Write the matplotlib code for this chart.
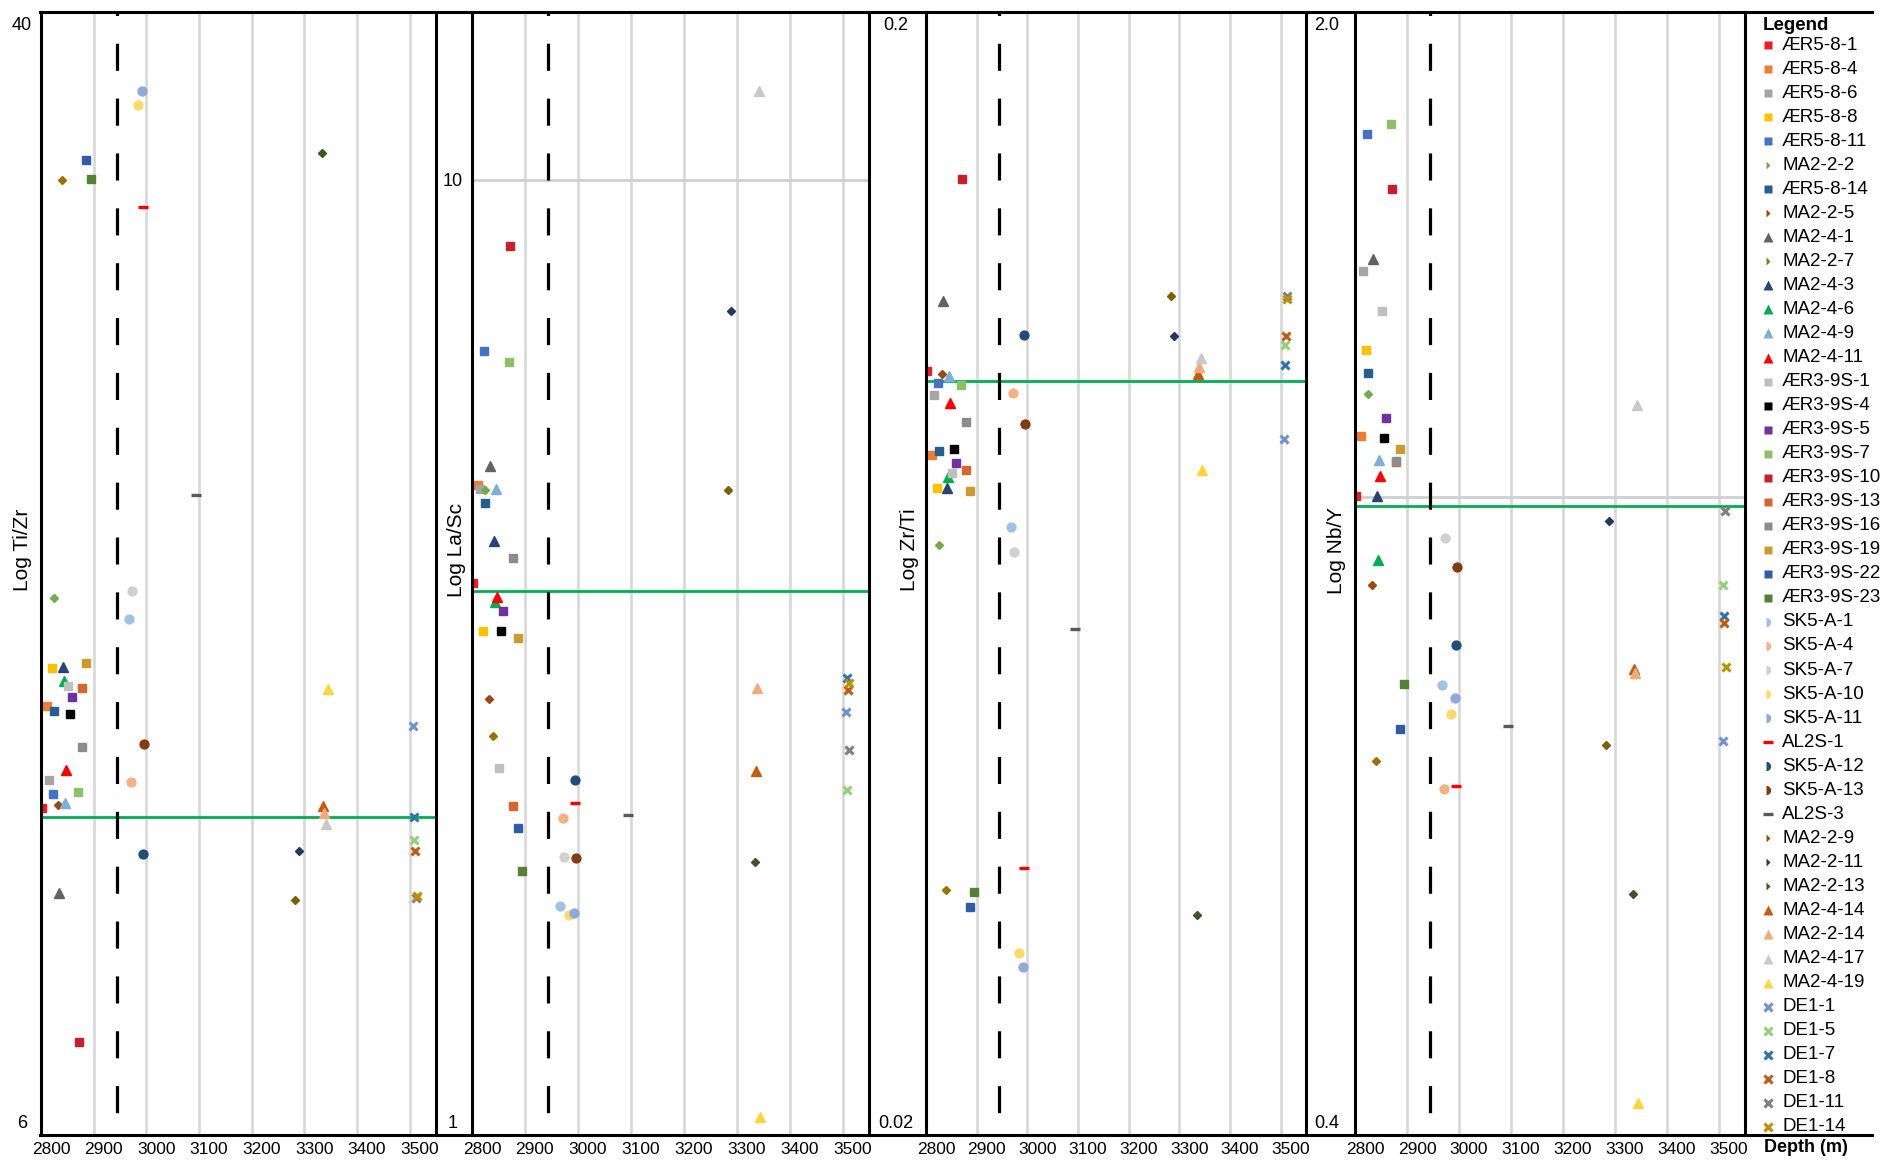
import matplotlib
matplotlib.use("Agg")
import numpy as np
import matplotlib.pyplot as plt
from matplotlib.lines import Line2D
from matplotlib.transforms import ScaledTranslation

plt.rcParams["font.family"] = ["Liberation Sans", "DejaVu Sans"]
plt.rcParams["lines.scale_dashes"] = False

# ---------------------------------------------------------------- data
samples = [
    "ÆR5-8-1", "ÆR5-8-4", "ÆR5-8-6", "ÆR5-8-8", "ÆR5-8-11", "MA2-2-2",
    "ÆR5-8-14", "MA2-2-5", "MA2-4-1", "MA2-2-7", "MA2-4-3", "MA2-4-6",
    "MA2-4-9", "MA2-4-11", "ÆR3-9S-1", "ÆR3-9S-4", "ÆR3-9S-5", "ÆR3-9S-7",
    "ÆR3-9S-10", "ÆR3-9S-13", "ÆR3-9S-16", "ÆR3-9S-19", "ÆR3-9S-22",
    "ÆR3-9S-23", "SK5-A-1", "SK5-A-4", "SK5-A-7", "SK5-A-10", "SK5-A-11",
    "AL2S-1", "SK5-A-12", "SK5-A-13", "AL2S-3", "MA2-2-9", "MA2-2-11",
    "MA2-2-13", "MA2-4-14", "MA2-2-14", "MA2-4-17", "MA2-4-19", "DE1-1",
    "DE1-5", "DE1-7", "DE1-8", "DE1-11", "DE1-14",
]

depth_m = [
    2802, 2811, 2815, 2821, 2823, 2825, 2825, 2832, 2834, 2840, 2842, 2844,
    2846, 2848, 2851, 2855, 2859, 2870, 2872, 2878, 2878, 2886, 2886, 2895,
    2967, 2971, 2973, 2984, 2992, 2994, 2994, 2996, 3095, 3283, 3289, 3334,
    3336, 3338, 3342, 3344, 3507, 3508, 3509, 3510, 3512, 3513,
]

ti_zr = [
    10.32, 12.31, 10.84, 13.15, 10.57, 14.84, 12.21, 10.37, 8.91, 30.55,
    13.17, 12.85, 10.41, 11.02, 12.74, 12.14, 12.51, 10.61, 6.89, 12.70,
    11.47, 13.26, 31.62, 30.60, 14.31, 10.80, 15.02, 34.79, 35.62, 29.16,
    9.53, 11.53, 17.72, 8.80, 9.58, 32.02, 10.36, 10.23, 10.04, 12.68,
    11.89, 9.77, 10.16, 9.58, 8.84, 8.87,
]

la_sc = [
    3.735, 4.746, 4.699, 3.320, 6.585, 4.688, 4.541, 2.812, 4.971, 2.569,
    4.138, 3.565, 4.699, 3.609, 2.376, 3.320, 3.487, 6.410, 8.510, 2.165,
    3.969, 3.264, 2.051, 1.847, 1.696, 2.102, 1.911, 1.659, 1.667, 2.182,
    2.307, 1.906, 2.118, 4.688, 7.258, 1.888, 2.358, 2.888, 12.43, 1.012,
    2.724, 2.251, 2.960, 2.874, 2.483, 2.924,
]

zr_ti = [
    0.0966, 0.0810, 0.0919, 0.0756, 0.0942, 0.0671, 0.0817, 0.0960, 0.1119,
    0.0325, 0.0756, 0.0774, 0.0956, 0.0903, 0.0780, 0.0820, 0.0797, 0.0938,
    0.1445, 0.0785, 0.0868, 0.0751, 0.0314, 0.0324, 0.0697, 0.0923, 0.0661,
    0.0285, 0.0277, 0.0341, 0.1042, 0.0865, 0.0562, 0.1130, 0.1039, 0.0309,
    0.0960, 0.0974, 0.0993, 0.0785, 0.0838, 0.1020, 0.0978, 0.1039, 0.1130,
    0.1123,
]

nb_y = [
    1.001, 1.094, 1.393, 1.240, 1.702, 1.163, 1.199, 0.879, 1.417, 0.679,
    1.001, 0.912, 1.056, 1.031, 1.313, 1.090, 1.122, 1.727, 1.570, 1.053,
    1.054, 1.073, 0.712, 0.760, 0.759, 0.652, 0.941, 0.727, 0.745, 0.655,
    0.805, 0.902, 0.715, 0.695, 0.965, 0.559, 0.777, 0.772, 1.144, 0.411,
    0.699, 0.879, 0.840, 0.831, 0.980, 0.779,
]

depth_ticks = [2800, 2900, 3000, 3100, 3200, 3300, 3400, 3500]
depth_range = (2800, 3550)
boundary_depth = 2944

axis_titles = ["Log Ti/Zr", "Log La/Sc", "Log Zr/Ti", "Log Nb/Y"]
tick_values = [[6, 40], [1, 10], [0.02, 0.2], [0.4, 2.0]]
tick_labels = [["6", "40"], ["1", "10"], ["0.02", "0.2"], ["0.4", "2.0"]]
green_limits = [10.16, 3.66, 0.0946, 0.987]
grey_limits = [None, 10, None, 1.0]

# ---------------------------------------------------------------- styles
sample_colors = {
    "ÆR5-8-1": "#EE1C25", "ÆR5-8-4": "#ED7D31", "ÆR5-8-6": "#A5A5A5",
    "ÆR5-8-8": "#FFC000", "ÆR5-8-11": "#4472C4", "MA2-2-2": "#70AD47",
    "ÆR5-8-14": "#255E91", "MA2-2-5": "#9E480E", "MA2-4-1": "#636363",
    "MA2-2-7": "#997300", "MA2-4-3": "#264478", "MA2-4-6": "#00B050",
    "MA2-4-9": "#7CAFDD", "MA2-4-11": "#FF0000", "ÆR3-9S-1": "#BFBFBF",
    "ÆR3-9S-4": "#000000", "ÆR3-9S-5": "#7030A0", "ÆR3-9S-7": "#8CC168",
    "ÆR3-9S-10": "#C8202A", "ÆR3-9S-13": "#D9652B", "ÆR3-9S-16": "#8C8C8C",
    "ÆR3-9S-19": "#CC9A2E", "ÆR3-9S-22": "#2F5BA8", "ÆR3-9S-23": "#548235",
    "SK5-A-1": "#9DC3E6", "SK5-A-4": "#F4B183", "SK5-A-7": "#D0D0D0",
    "SK5-A-10": "#FFD966", "SK5-A-11": "#8EA9DB", "AL2S-1": "#FF0000",
    "SK5-A-12": "#1F4E79", "SK5-A-13": "#843C0C", "AL2S-3": "#595959",
    "MA2-2-9": "#7F6000", "MA2-2-11": "#203864", "MA2-2-13": "#385723",
    "MA2-4-14": "#C55A11", "MA2-2-14": "#F4A97A", "MA2-4-17": "#C9C9C9",
    "MA2-4-19": "#FFD43B", "DE1-1": "#7291D4", "DE1-5": "#92D07A",
    "DE1-7": "#2E75B6", "DE1-8": "#C55A11", "DE1-11": "#7F7F7F",
    "DE1-14": "#BF9000",
}


def marker_style(name):
    if name.startswith("Æ"):
        return dict(marker="s", ms=6.2)
    if name.startswith("MA2-4") or name == "MA2-2-14":
        return dict(marker="^", ms=7.0)
    if name.startswith("MA2-2"):
        return dict(marker="D", ms=4.2)
    if name.startswith("SK5"):
        return dict(marker="o", ms=6.4)
    if name.startswith("AL2S"):
        return dict(marker="_", ms=7.0, mew=2.4)
    return dict(marker="x", ms=5.6, mew=2.2)


# ---------------------------------------------------------------- layout
W, H = 1885, 1162
fig = plt.figure(figsize=(W / 100, H / 100), dpi=100)
TOP, BOT = 12, 1135
LABEL_LOW, LABEL_TOPS = 1122, [24, 180, 24, 24]
panel_x = [(41, 436), (472, 869), (926, 1306), (1355, 1745)]
tick_pads = [13.7, 13.7, 21.6, 20.2]
title_x = [22, 456, 909, 1337]
series = [ti_zr, la_sc, zr_ti, nb_y]
LW = 2.2

for p in range(4):
    left, right = panel_x[p]
    ax = fig.add_axes([left / W, 1 - BOT / H, (right - left) / W, (BOT - TOP) / H])
    ax.set_yscale("log")
    lo_v, hi_v = tick_values[p]
    k = (np.log10(hi_v) - np.log10(lo_v)) / (LABEL_LOW - LABEL_TOPS[p])
    ax.set_ylim(10 ** (np.log10(lo_v) - k * (BOT - LABEL_LOW)),
                10 ** (np.log10(lo_v) + k * (LABEL_LOW - TOP)))
    ax.set_xlim(*depth_range)

    ax.set_xticks(depth_ticks)
    ax.set_xticklabels([str(t) for t in depth_ticks],
                       family=["Liberation Sans Narrow", "Liberation Sans"],
                       fontsize=12.5)
    ax.tick_params(axis="x", length=0, pad=5)
    shift = ScaledTranslation(10 / 100, 0, fig.dpi_scale_trans)
    for lbl in ax.get_xticklabels():
        lbl.set_transform(lbl.get_transform() + shift)

    ax.yaxis.set_minor_locator(matplotlib.ticker.NullLocator())
    ax.set_yticks(tick_values[p])
    ax.set_yticklabels(tick_labels[p], fontsize=13)
    ax.tick_params(axis="y", length=0, pad=tick_pads[p])
    for lbl in ax.get_yticklabels():
        lbl.set_horizontalalignment("center")

    ax.xaxis.grid(True, color="#D9D9D9", lw=2.0)
    ax.yaxis.grid(False)
    ax.set_axisbelow(True)
    for side in ("top", "bottom"):
        ax.spines[side].set_visible(False)
    for side in ("left", "right"):
        ax.spines[side].set_linewidth(LW)
        ax.spines[side].set_color("black")
        ax.spines[side].set_zorder(5)
    ax.patch.set_alpha(0)

    if grey_limits[p] is not None:
        ax.axhline(grey_limits[p], color="#CFCFCF", lw=2.0, zorder=1)
    ax.axhline(green_limits[p], color="#00B050", lw=2.0, zorder=2)
    ylo, yhi = ax.get_ylim()
    ax.plot([boundary_depth, boundary_depth], [yhi, ylo], color="black", lw=2.3,
            linestyle=(17.0, (19.5, 20.0)), zorder=2)

    vals = series[p]
    for i, name in enumerate(samples):
        st = marker_style(name)
        ax.plot(depth_m[i], vals[i], ls="none", color=sample_colors[name],
                mec=sample_colors[name], zorder=3 + i * 0.01, **st)

    fig.text(title_x[p] / W, 1 - 550 / H, axis_titles[p], rotation=90,
             ha="center", va="center", fontsize=15)

# frame lines running across the whole figure
for ypx in (TOP, BOT):
    fig.add_artist(Line2D([40 / W, 1872 / W], [1 - ypx / H] * 2,
                          color="black", lw=LW, transform=fig.transFigure))

# ---------------------------------------------------------------- legend
lax = fig.add_axes([0, 0, 1, 1])
lax.set_xlim(0, W)
lax.set_ylim(H, 0)
lax.axis("off")
lax.text(1763, 25, "Legend", fontsize=13.5, fontweight="bold", va="center", ha="left")
for i, name in enumerate(samples):
    y = 45 + i * 24.04
    st = marker_style(name)
    extra = {}
    if st["marker"] in ("D", "o"):
        extra = dict(fillstyle="right", markerfacecoloralt="none")
        st = dict(st, ms=st["ms"] * 1.05)
    lax.plot(1766 if extra else 1768, y, ls="none", color=sample_colors[name],
             mec="none" if st["marker"] not in ("x", "_") else sample_colors[name],
             **st, **extra)
    lax.text(1782, y, name, fontsize=13.5, va="center", ha="left")
lax.text(1806, 1148, "Depth (m)", fontsize=13, fontweight="bold",
         va="center", ha="center")

fig.savefig("out.png", dpi=100)
